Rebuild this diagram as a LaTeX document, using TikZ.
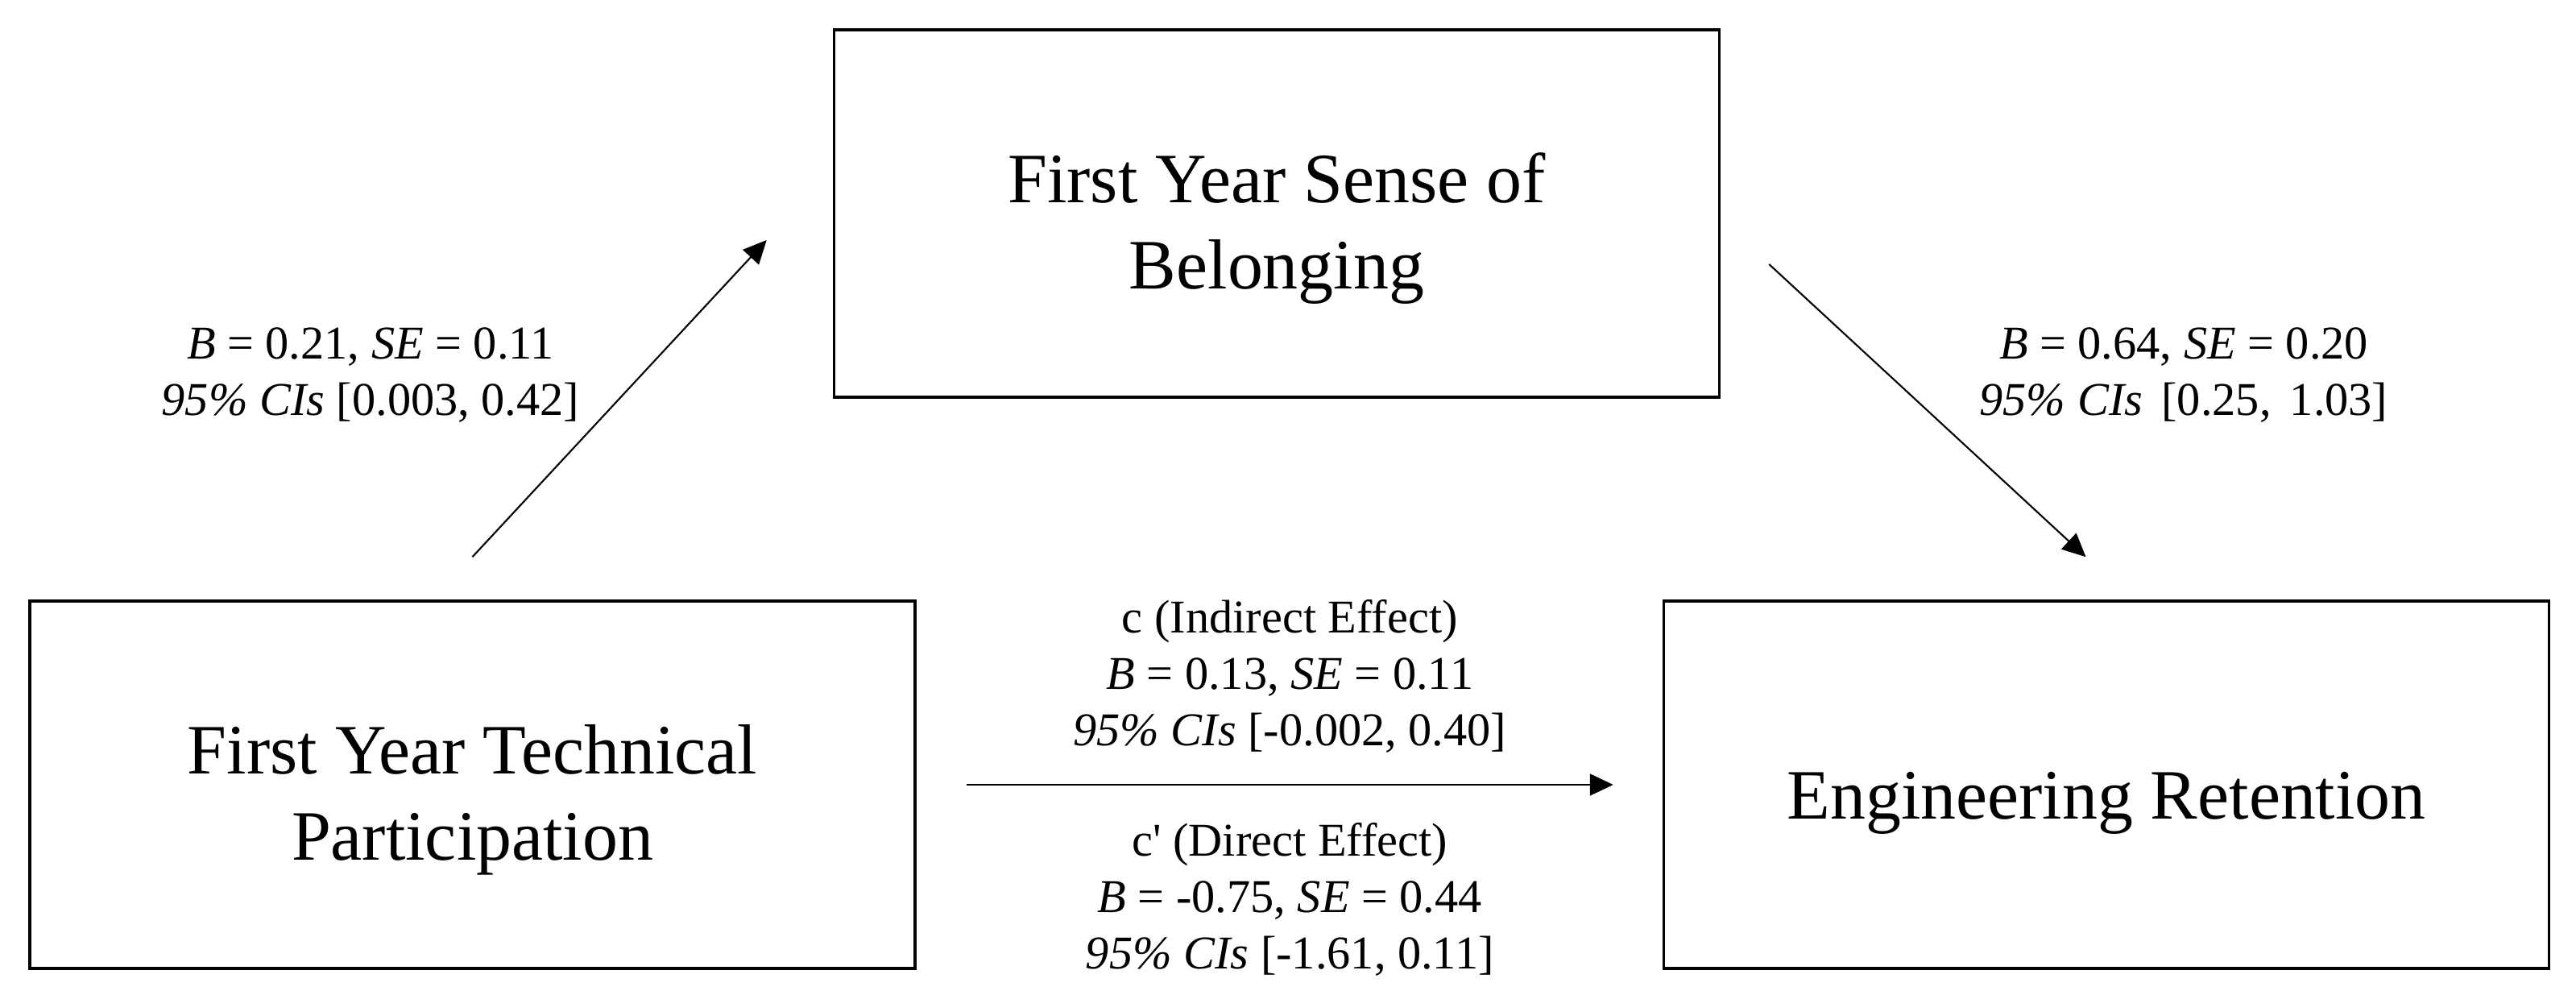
\documentclass[tikz,border=0pt]{standalone}
\usepackage{fontspec}
\setmainfont{Liberation Serif}
\usetikzlibrary{arrows.meta, positioning}

\begin{document}
\begin{tikzpicture}[
node distance=9.26cm,
box/.style={rectangle, draw, line width=1pt, minimum width=10.99cm, minimum height=4.56cm, align=center, text height=58.4pt, font=\fontsize{25}{30.4}\selectfont},
stat/.style={align=center, inner sep=0pt, font=\fontsize{16.6}{19.9}\selectfont},
arrow/.style={-{Triangle[length=2.9mm, width=2.7mm]}, line width=0.6pt}
]
\useasboundingbox (0,0) rectangle (31.98,12.29);
\node[box] (tech) at (5.865,2.55) {First Year Technical\\Participation};
\node[box, text height=29.4pt, right=of tech] (retain) {Engineering Retention};
\node[box] (belong) at (15.85,9.64) {First Year Sense of\\Belonging};

\node[stat] (techbelong) at (4.60,7.63) {\textit{B} = 0.21, \textit{SE} = 0.11\\\textit{95\% CIs} [0.003, 0.42]};
\node[stat] (belongretain) at (27.11,7.63) {\textit{B} = 0.64, \textit{SE} = 0.20\\\textit{95\% CIs}\hspace{0.15em} [0.25,\hspace{0.15em} 1.03]};

\draw[arrow] ([yshift=5.3mm]tech.north) -- ([xshift=-8.2mm, yshift=-3.3mm]belong.west);
\draw[arrow] ([xshift=6mm, yshift=-6.3mm]belong.east) -- ([xshift=-2.55mm, yshift=5.3mm]retain.north);
\draw[arrow] ([xshift=6.2mm]tech.east) -- ([xshift=-6.1mm]retain.west)
  node[stat, midway, above=3.86mm] (indirect) {c (Indirect Effect)\\\textit{B} = 0.13, \textit{SE} = 0.11\\\textit{95\% CIs} [-0.002, 0.40]}
  node[stat, midway, below=4.6mm] (direct) {c\textquotesingle{} (Direct Effect)\\\textit{B} = -0.75, \textit{SE} = 0.44\\\textit{95\% CIs} [-1.61, 0.11]};
\end{tikzpicture}
\end{document}
